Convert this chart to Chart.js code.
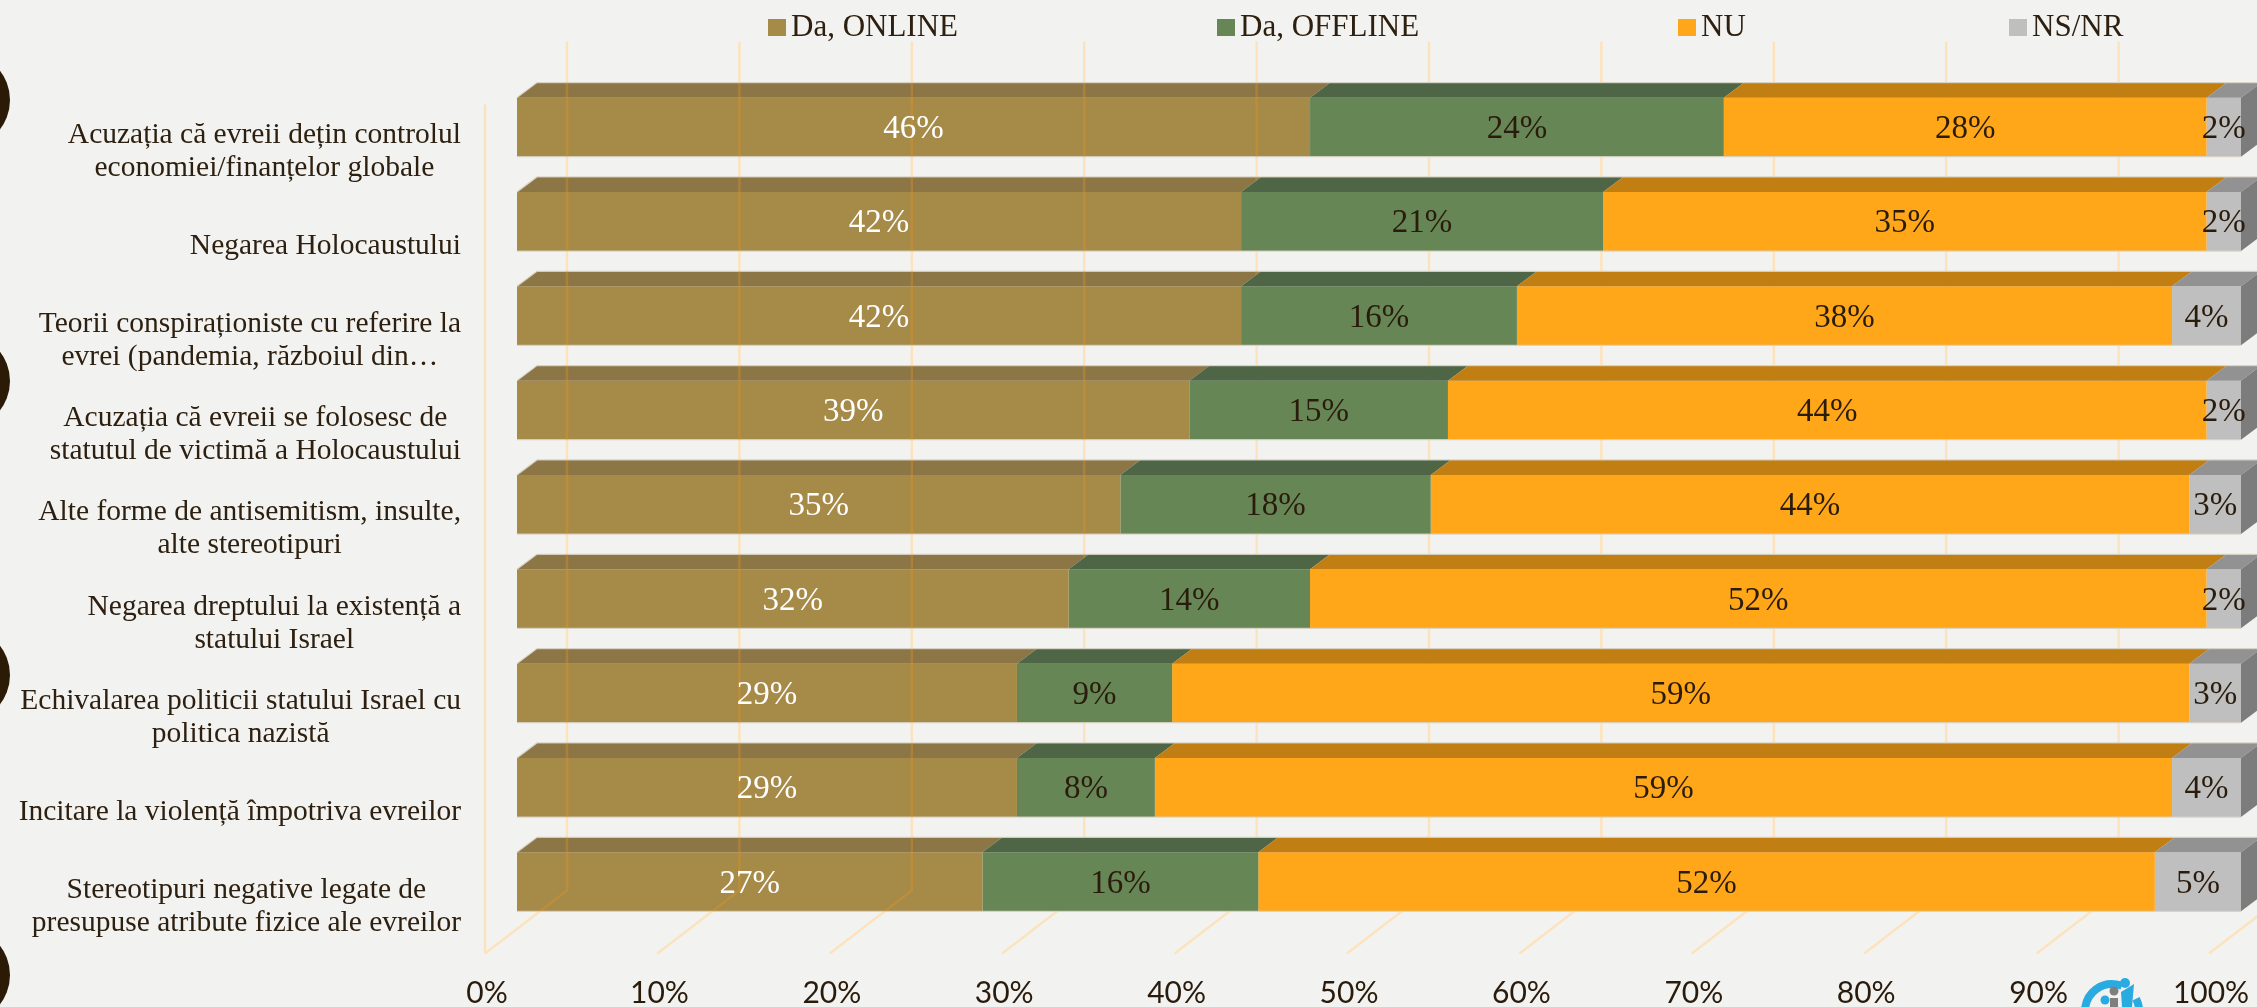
<!DOCTYPE html>
<html>
<head>
<meta charset="utf-8">
<script src="https://cdn.jsdelivr.net/npm/chart.js@4.4.1/dist/chart.umd.min.js"></script>
<style>
  html, body { margin: 0; padding: 0; background: #f2f2f0; }
  canvas { display: block; }
</style>
</head>
<body>
<canvas id="chart" width="2257" height="1007"></canvas>
<script>
const categories = [
  ["Acuzația că evreii dețin controlul", "economiei/finanțelor globale"],
  ["Negarea Holocaustului"],
  ["Teorii conspiraționiste cu referire la", "evrei (pandemia, războiul din…"],
  ["Acuzația că evreii se folosesc de", "statutul de victimă a Holocaustului"],
  ["Alte forme de antisemitism, insulte,", "alte stereotipuri"],
  ["Negarea dreptului la existență a", "statului Israel"],
  ["Echivalarea politicii statului Israel cu", "politica nazistă"],
  ["Incitare la violență împotriva evreilor"],
  ["Stereotipuri negative legate de", "presupuse atribute fizice ale evreilor"],
];
const seriesNames = ["Da, ONLINE", "Da, OFFLINE", "NU", "NS/NR"];
const daOnline  = [46, 42, 42, 39, 35, 32, 29, 29, 27];
const daOffline = [24, 21, 16, 15, 18, 14,  9,  8, 16];
const nu        = [28, 35, 38, 44, 44, 52, 59, 59, 52];
const nsnr      = [ 2,  2,  4,  2,  3,  2,  3,  4,  5];
const xTicks = [0, 10, 20, 30, 40, 50, 60, 70, 80, 90, 100];

// face colours per series: front, top, right side
const frontColors = ["rgb(166,138,72)", "rgb(103,134,86)", "rgb(255,167,24)", "rgb(191,191,191)"];
const topColors   = ["rgb(140,118,70)", "rgb(78,102,70)",  "rgb(193,126,18)", "rgb(146,146,146)"];
const sideColor   = "rgb(124,124,124)";
const labelColors = ["#ffffff", "#2a1c0c", "#2a1c0c", "#2a1c0c"];

// 3d offsets relative to the plane of the bar fronts
const BAR_DEPTH = { dx: 20, dy: 15 };
const WALL = { dx: 50, dy: 38.5 };
const FRONT = { dx: -32, dy: 24.6 };

const GRID_COLOR = "#fde3bd";
const TEXT_DARK = "#2e2010";
const SERIF = "'Liberation Serif', 'DejaVu Serif', serif";

function gridPath(ctx, chart) {
  const xs = chart.scales.x, a = chart.chartArea;
  ctx.beginPath();
  xTicks.forEach(t => {
    const px = xs.getPixelForValue(t);
    ctx.moveTo(px + WALL.dx, a.top - WALL.dy);
    ctx.lineTo(px + WALL.dx, a.bottom - WALL.dy);
    ctx.lineTo(px + FRONT.dx, a.bottom + FRONT.dy);
  });
  const x0 = xs.getPixelForValue(0) + FRONT.dx;
  ctx.moveTo(x0, a.top + FRONT.dy);
  ctx.lineTo(x0, a.bottom + FRONT.dy);
}

function barBox(el) {
  const l = Math.min(el.base, el.x), r = Math.max(el.base, el.x);
  return { l, r, t: el.y - el.height / 2, b: el.y + el.height / 2 };
}

function drawLogo(ctx) {
  const cx = 2112, cy = 1011, R = 27;
  ctx.save();
  ctx.strokeStyle = "#29abe2";
  ctx.lineWidth = 8;
  ctx.beginPath();
  ctx.arc(cx, cy, R, Math.PI * 0.55, Math.PI * 1.62);
  ctx.stroke();
  ctx.beginPath();
  ctx.arc(cx, cy, R, Math.PI * 1.85, Math.PI * 2.45);
  ctx.stroke();
  ctx.fillStyle = "#29abe2";
  ctx.beginPath(); ctx.arc(2125, 983, 5, 0, Math.PI * 2); ctx.fill();
  ctx.beginPath(); ctx.arc(2105, 1000, 4.5, 0, Math.PI * 2); ctx.fill();
  ctx.beginPath();
  ctx.moveTo(2121, 992); ctx.lineTo(2134, 984); ctx.lineTo(2132, 1007); ctx.lineTo(2122, 1007);
  ctx.closePath(); ctx.fill();
  ctx.fillStyle = "#7f7f7f";
  ctx.beginPath(); ctx.arc(2114, 991, 4.5, 0, Math.PI * 2); ctx.fill();
  ctx.fillRect(2110, 998, 8, 9);
  ctx.restore();
}

const depth3d = {
  id: "depth3d",
  beforeDraw(chart) {
    const ctx = chart.ctx;
    ctx.save();
    ctx.fillStyle = "#f2f2f0";
    ctx.fillRect(0, 0, chart.width, chart.height);
    // dark rounded edges along the left border
    ctx.fillStyle = "#2b1b06";
    [100, 381, 675, 975].forEach(cy => {
      ctx.beginPath();
      ctx.ellipse(-32, cy, 42, 45, 0, 0, Math.PI * 2);
      ctx.fill();
    });
    ctx.restore();
  },
  beforeDatasetsDraw(chart) {
    const ctx = chart.ctx;
    ctx.save();
    ctx.strokeStyle = GRID_COLOR;
    ctx.lineWidth = 2.5;
    gridPath(ctx, chart);
    ctx.stroke();
    ctx.restore();
  },
  afterDatasetsDraw(chart) {
    const ctx = chart.ctx;
    const last = chart.data.datasets.length - 1;
    ctx.save();
    chart.data.datasets.forEach((ds, i) => {
      chart.getDatasetMeta(i).data.forEach(el => {
        const { l, r, t, b } = barBox(el);
        ctx.fillStyle = topColors[i];
        ctx.beginPath();
        ctx.moveTo(l, t); ctx.lineTo(r, t);
        ctx.lineTo(r + BAR_DEPTH.dx, t - BAR_DEPTH.dy);
        ctx.lineTo(l + BAR_DEPTH.dx, t - BAR_DEPTH.dy);
        ctx.closePath(); ctx.fill();
        if (i === last) {
          ctx.fillStyle = sideColor;
          ctx.beginPath();
          ctx.moveTo(r, t); ctx.lineTo(r + BAR_DEPTH.dx, t - BAR_DEPTH.dy);
          ctx.lineTo(r + BAR_DEPTH.dx, b - BAR_DEPTH.dy); ctx.lineTo(r, b);
          ctx.closePath(); ctx.fill();
        }
      });
    });
    // light rim along the top of every bar
    ctx.strokeStyle = "rgba(215,210,196,0.9)";
    ctx.lineWidth = 1.2;
    chart.getDatasetMeta(0).data.forEach((el, k) => {
      const { l, t, b } = barBox(el);
      const r = barBox(chart.getDatasetMeta(last).data[k]).r;
      ctx.beginPath();
      ctx.moveTo(l, t); ctx.lineTo(l + BAR_DEPTH.dx, t - BAR_DEPTH.dy);
      ctx.lineTo(r + BAR_DEPTH.dx, t - BAR_DEPTH.dy);
      ctx.moveTo(l, b); ctx.lineTo(r, b);
      ctx.stroke();
    });
    // the first series is slightly see-through, grid shows behind it
    ctx.beginPath();
    chart.getDatasetMeta(0).data.forEach(el => {
      const { l, r, t, b } = barBox(el);
      ctx.moveTo(l, b); ctx.lineTo(l, t);
      ctx.lineTo(l + BAR_DEPTH.dx, t - BAR_DEPTH.dy);
      ctx.lineTo(r + BAR_DEPTH.dx, t - BAR_DEPTH.dy);
      ctx.lineTo(r, t); ctx.lineTo(r, b);
      ctx.closePath();
    });
    ctx.clip();
    ctx.strokeStyle = "rgba(235,150,30,0.32)";
    ctx.lineWidth = 2.5;
    gridPath(ctx, chart);
    ctx.stroke();
    ctx.restore();
  },
  afterDraw(chart) {
    const ctx = chart.ctx;
    const xs = chart.scales.x, ys = chart.scales.y;
    ctx.save();

    // values on the bar fronts
    ctx.font = "33px " + SERIF;
    ctx.textAlign = "center";
    ctx.textBaseline = "middle";
    chart.data.datasets.forEach((ds, i) => {
      ctx.fillStyle = labelColors[i];
      chart.getDatasetMeta(i).data.forEach((el, k) => {
        ctx.fillText(ds.data[k] + "%", (el.x + el.base) / 2, el.y + 2);
      });
    });

    // category labels, centred block ending left of the axis
    ctx.font = "29.5px " + SERIF;
    ctx.fillStyle = TEXT_DARK;
    const rightEdge = xs.getPixelForValue(0) + FRONT.dx - 24;
    const lineH = 33;
    categories.forEach((lines, k) => {
      const cy = ys.getPixelForValue(k) + FRONT.dy;
      const w = Math.max(...lines.map(s => ctx.measureText(s).width));
      const cx = rightEdge - w / 2;
      lines.forEach((s, j) => {
        ctx.fillText(s, cx, cy + (j - (lines.length - 1) / 2) * lineH);
      });
    });

    // percentage ticks along the front floor edge
    ctx.font = "30px Lato, 'Open Sans', sans-serif";
    ctx.fillStyle = "#2a1c0c";
    xTicks.forEach(t => {
      ctx.fillText(t + "%", xs.getPixelForValue(t) + FRONT.dx + 2, chart.chartArea.bottom + 64);
    });

    // legend
    const legendX = [768, 1217, 1678, 2009];
    ctx.font = "31px " + SERIF;
    ctx.textAlign = "left";
    seriesNames.forEach((name, i) => {
      ctx.fillStyle = frontColors[i];
      ctx.fillRect(legendX[i], 19, 18, 17);
      ctx.fillStyle = TEXT_DARK;
      ctx.fillText(name, legendX[i] + 23, 28);
    });

    drawLogo(ctx);
    ctx.restore();
  }
};

const seriesData = [daOnline, daOffline, nu, nsnr];

new Chart(document.getElementById("chart"), {
  type: "bar",
  data: {
    labels: categories,
    datasets: seriesNames.map((name, i) => ({
      label: name,
      data: seriesData[i],
      backgroundColor: frontColors[i],
      borderWidth: 0,
      barPercentage: 0.626,
      categoryPercentage: 1.0,
    })),
  },
  options: {
    indexAxis: "y",
    responsive: false,
    devicePixelRatio: 1,
    animation: false,
    layout: { padding: { left: 517, right: 16, top: 80, bottom: 78 } },
    plugins: {
      legend: { display: false },
      tooltip: { enabled: false },
    },
    scales: {
      x: { stacked: true, min: 0, max: 100, display: false },
      y: { stacked: true, display: false },
    },
  },
  plugins: [depth3d],
});
</script>
</body>
</html>
